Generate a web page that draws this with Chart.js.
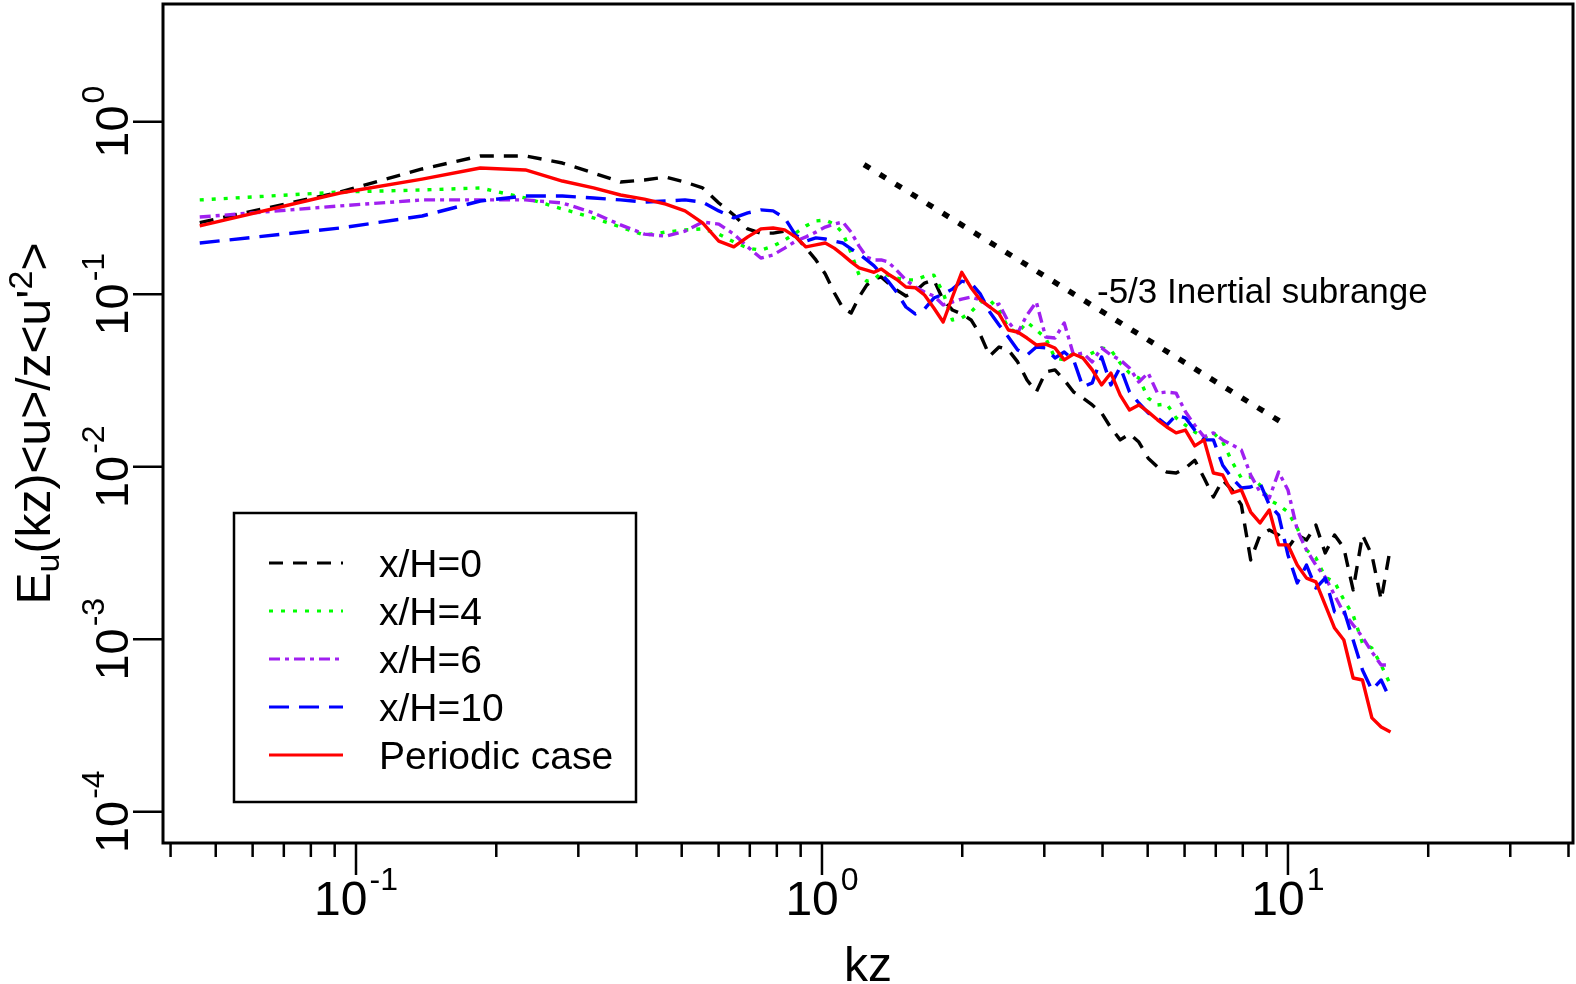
<!DOCTYPE html>
<html>
<head>
<meta charset="utf-8">
<script src="https://cdn.jsdelivr.net/npm/chart.js@4.4.0/dist/chart.umd.min.js"></script>
<style>
html, body { margin: 0; padding: 0; background: #ffffff; }
#wrap { width: 1576px; height: 984px; }
</style>
</head>
<body>
<div id="wrap"><canvas id="mycanvas" width="1576" height="984"></canvas></div>
<script>
// wavenumber kz
var kz = [0.0462, 0.0924, 0.1386, 0.1848, 0.231, 0.2772, 0.3234, 0.3696, 0.4158, 0.462,
    0.5082, 0.5544, 0.6006, 0.6468, 0.693, 0.7392, 0.7854, 0.8316, 0.8778, 0.924,
    0.9702, 1.0164, 1.0626, 1.1088, 1.155, 1.2012, 1.2474, 1.2936, 1.3398, 1.386,
    1.445, 1.514, 1.585, 1.660, 1.738, 1.820, 1.905, 1.995, 2.089, 2.188,
    2.291, 2.399, 2.512, 2.630, 2.754, 2.884, 3.020, 3.162, 3.311, 3.467,
    3.631, 3.802, 3.981, 4.169, 4.365, 4.571, 4.786, 5.012, 5.248, 5.495,
    5.754, 6.026, 6.310, 6.607, 6.918, 7.244, 7.586, 7.943, 8.318, 8.710,
    9.120, 9.550, 10.00, 10.47, 10.96, 11.48, 12.02, 12.59, 13.18, 13.80,
    14.45, 15.14, 15.85, 16.60];

// x/H=0
var eu0 = [0.260, 0.391, 0.532, 0.633, 0.633, 0.576, 0.504, 0.447, 0.459, 0.478,
    0.447, 0.413, 0.338, 0.288, 0.239, 0.226, 0.226, 0.232, 0.217, 0.185,
    0.158, 0.131, 0.102, 0.0832, 0.0778, 0.0963, 0.113, 0.122, 0.126, 0.116,
    0.106, 0.0976, 0.104, 0.116, 0.121, 0.0926, 0.0810, 0.0768, 0.0709, 0.0580,
    0.0438, 0.0494, 0.0475, 0.0405, 0.0318, 0.0271, 0.0354, 0.0364, 0.0318, 0.0271,
    0.0250, 0.0228, 0.0205, 0.0168, 0.0143, 0.0155, 0.0139, 0.0112, 0.00997, 0.00932,
    0.00919, 0.00983, 0.0109, 0.00860, 0.00667, 0.00837, 0.00733, 0.00600, 0.00288, 0.00402,
    0.00430, 0.00402, 0.00338, 0.00402, 0.00376, 0.00459, 0.00316, 0.00402, 0.00338, 0.00193,
    0.00402, 0.00308, 0.00169, 0.00342];

// x/H=4
var eu4 = [0.352, 0.391, 0.402, 0.413, 0.361, 0.312, 0.277, 0.245, 0.220, 0.229,
    0.236, 0.239, 0.223, 0.201, 0.185, 0.180, 0.190, 0.206, 0.226, 0.249,
    0.266, 0.269, 0.255, 0.226, 0.173, 0.129, 0.119, 0.122, 0.133, 0.129,
    0.124, 0.121, 0.121, 0.127, 0.129, 0.102, 0.0709, 0.0728, 0.0789, 0.0901,
    0.0926, 0.0810, 0.0637, 0.0596, 0.0690, 0.0620, 0.0557, 0.0427, 0.0416, 0.0456,
    0.0427, 0.0456, 0.0488, 0.0475, 0.0399, 0.0349, 0.0327, 0.0250, 0.0228, 0.0231,
    0.0192, 0.0174, 0.0159, 0.0147, 0.0157, 0.0139, 0.0107, 0.00860, 0.00872, 0.00783,
    0.00641, 0.00600, 0.00546, 0.00441, 0.00329, 0.00296, 0.00229, 0.00215, 0.00169, 0.00138,
    0.000950, 0.000889, 0.000709, 0.000543];

// x/H=6
var eu6 = [0.280, 0.325, 0.352, 0.352, 0.352, 0.338, 0.296, 0.252, 0.223, 0.217,
    0.232, 0.262, 0.255, 0.223, 0.188, 0.162, 0.169, 0.185, 0.203, 0.215,
    0.229, 0.245, 0.255, 0.262, 0.229, 0.190, 0.164, 0.158, 0.158, 0.154,
    0.138, 0.121, 0.110, 0.103, 0.0976, 0.0866, 0.0901, 0.0937, 0.0963, 0.0926,
    0.0843, 0.0877, 0.0690, 0.0596, 0.0758, 0.0901, 0.0565, 0.0557, 0.0681, 0.0444,
    0.0456, 0.0405, 0.0488, 0.0444, 0.0416, 0.0373, 0.0310, 0.0349, 0.0267, 0.0271,
    0.0267, 0.0208, 0.0174, 0.0149, 0.0157, 0.0143, 0.0134, 0.0125, 0.00895, 0.00713,
    0.00659, 0.00932, 0.00733, 0.00430, 0.00329, 0.00269, 0.00229, 0.00180, 0.00142, 0.00121,
    0.00103, 0.000843, 0.000709, 0.000709];

// x/H=10
var eu10 = [0.198, 0.242, 0.284, 0.347, 0.371, 0.371, 0.361, 0.352, 0.342, 0.347,
    0.352, 0.342, 0.304, 0.277, 0.296, 0.308, 0.304, 0.277, 0.220, 0.203,
    0.212, 0.209, 0.203, 0.198, 0.183, 0.171, 0.158, 0.146, 0.131, 0.119,
    0.103, 0.0843, 0.0768, 0.0821, 0.0950, 0.100, 0.107, 0.119, 0.116, 0.100,
    0.0789, 0.0663, 0.0565, 0.0475, 0.0444, 0.0494, 0.0488, 0.0427, 0.0462, 0.0416,
    0.0290, 0.0306, 0.0433, 0.0298, 0.0378, 0.0271, 0.0234, 0.0205, 0.0192, 0.0174,
    0.0199, 0.0192, 0.0163, 0.0143, 0.0143, 0.0102, 0.00860, 0.00753, 0.00763, 0.00805,
    0.00600, 0.00525, 0.00308, 0.00212, 0.00269, 0.00198, 0.00226, 0.00144, 0.00148, 0.000989,
    0.000663, 0.000508, 0.000580, 0.000444];

// periodic case
var euPer = [0.249, 0.386, 0.465, 0.539, 0.525, 0.453, 0.413, 0.376, 0.356, 0.333,
    0.304, 0.259, 0.203, 0.188, 0.215, 0.239, 0.242, 0.236, 0.215, 0.188,
    0.193, 0.198, 0.185, 0.169, 0.154, 0.142, 0.138, 0.134, 0.140, 0.131,
    0.122, 0.110, 0.109, 0.0989, 0.0832, 0.0690, 0.0963, 0.134, 0.109, 0.0926,
    0.0843, 0.0768, 0.0620, 0.0604, 0.0557, 0.0508, 0.0514, 0.0488, 0.0416, 0.0450,
    0.0427, 0.0364, 0.0298, 0.0349, 0.0260, 0.0213, 0.0228, 0.0208, 0.0187, 0.0170,
    0.0157, 0.0163, 0.0132, 0.0143, 0.00919, 0.00895, 0.00704, 0.00733, 0.00546, 0.00472,
    0.00561, 0.00352, 0.00352, 0.00269, 0.00226, 0.00215, 0.00158, 0.00116, 0.000989, 0.000596,
    0.000580, 0.000350, 0.000310, 0.000290];

// -5/3 reference line end points
var slopeKz = [1.231, 9.90];
var slopeEu = [0.564, 0.01745];

var seriesNames = ['x/H=0', 'x/H=4', 'x/H=6', 'x/H=10', 'Periodic case'];
var xMajor = [0.1, 1, 10];
var xMinor = [0.04, 0.05, 0.06, 0.07, 0.08, 0.09, 0.2, 0.3, 0.4, 0.5, 0.6, 0.7, 0.8, 0.9,
    2, 3, 4, 5, 6, 7, 8, 9, 20, 30, 40];
var yMajor = [1, 0.1, 0.01, 0.001, 0.0001];

var FONT = '"Liberation Sans", Arial, Helvetica, sans-serif';

function toPoints(xs, ys) {
    var out = [];
    for (var i = 0; i < xs.length; i++) {
        out.push({ x: xs[i], y: ys[i] });
    }
    return out;
}

function lineSet(label, vals, color, dash, order) {
    return {
        label: label,
        data: toPoints(kz, vals),
        borderColor: color,
        backgroundColor: color,
        borderWidth: 3.4,
        borderDash: dash,
        borderJoinStyle: 'round',
        pointRadius: 0,
        tension: 0,
        fill: false,
        order: order
    };
}

// draws 10 with a superscript exponent, centered on 0 along the baseline
function drawPow(ctx, exp, big, small, raise) {
    var base = '10', sup = String(exp);
    ctx.font = big + 'px ' + FONT;
    var w1 = ctx.measureText(base).width;
    ctx.font = small + 'px ' + FONT;
    var w2 = ctx.measureText(sup).width;
    var x0 = -(w1 + w2 + 2) / 2;
    ctx.textAlign = 'left';
    ctx.textBaseline = 'alphabetic';
    ctx.font = big + 'px ' + FONT;
    ctx.fillText(base, x0, 0);
    ctx.font = small + 'px ' + FONT;
    ctx.fillText(sup, x0 + w1 + 2, -raise);
}

var rStyle = {
    id: 'rStyle',
    afterDraw: function (chart) {
        var ctx = chart.ctx;
        var a = chart.chartArea;
        var xs = chart.scales.x;
        var ys = chart.scales.y;
        ctx.save();
        ctx.strokeStyle = '#000000';
        ctx.fillStyle = '#000000';
        ctx.setLineDash([]);

        // plot box
        ctx.lineWidth = 3;
        ctx.strokeRect(a.left, a.top, a.right - a.left, a.bottom - a.top);

        // ticks
        ctx.lineWidth = 2.5;
        ctx.beginPath();
        xMinor.forEach(function (v) {
            var px = xs.getPixelForValue(v);
            ctx.moveTo(px, a.bottom);
            ctx.lineTo(px, a.bottom + 14);
        });
        xMajor.forEach(function (v) {
            var px = xs.getPixelForValue(v);
            ctx.moveTo(px, a.bottom);
            ctx.lineTo(px, a.bottom + 32);
        });
        yMajor.forEach(function (v) {
            var py = ys.getPixelForValue(v);
            ctx.moveTo(a.left, py);
            ctx.lineTo(a.left - 30, py);
        });
        ctx.stroke();

        // x tick labels
        xMajor.forEach(function (v) {
            var px = xs.getPixelForValue(v);
            ctx.save();
            ctx.translate(px, a.bottom + 72);
            drawPow(ctx, Math.round(Math.log10(v)), 48, 32, 25);
            ctx.restore();
        });

        // y tick labels (rotated)
        yMajor.forEach(function (v) {
            var py = ys.getPixelForValue(v);
            ctx.save();
            ctx.translate(a.left - 35, py);
            ctx.rotate(-Math.PI / 2);
            drawPow(ctx, Math.round(Math.log10(v)), 47, 32, 24);
            ctx.restore();
        });

        // x title
        ctx.font = '48px ' + FONT;
        ctx.textAlign = 'center';
        ctx.textBaseline = 'alphabetic';
        ctx.fillText('kz', (a.left + a.right) / 2, 981);

        // y title: E_u(kz)<u>/z<u'^2>
        var parts = [
            { t: 'E', s: 48, dy: 0 },
            { t: 'u', s: 34, dy: 9 },
            { t: '(kz)<u>/z<u\'', s: 48, dy: 0 },
            { t: '2', s: 34, dy: -18 },
            { t: '>', s: 48, dy: 0 }
        ];
        var total = 0;
        parts.forEach(function (p) {
            ctx.font = p.s + 'px ' + FONT;
            p.w = ctx.measureText(p.t).width;
            total += p.w;
        });
        ctx.save();
        ctx.translate(50, (a.top + a.bottom) / 2);
        ctx.rotate(-Math.PI / 2);
        ctx.textAlign = 'left';
        var cx = -total / 2;
        parts.forEach(function (p) {
            ctx.font = p.s + 'px ' + FONT;
            ctx.fillText(p.t, cx, p.dy);
            cx += p.w;
        });
        ctx.restore();

        // slope label
        ctx.font = '35px ' + FONT;
        ctx.textAlign = 'left';
        ctx.fillText('-5/3 Inertial subrange', 1097, 303);

        // legend
        var lx = 234, ly = 513, lw = 402, lh = 289;
        ctx.fillStyle = '#ffffff';
        ctx.fillRect(lx, ly, lw, lh);
        ctx.lineWidth = 2.5;
        ctx.strokeStyle = '#000000';
        ctx.strokeRect(lx, ly, lw, lh);
        var rows = chart.data.datasets.filter(function (d) { return seriesNames.indexOf(d.label) >= 0; });
        rows.forEach(function (d, i) {
            var ry = 563 + i * 48;
            ctx.beginPath();
            ctx.strokeStyle = d.borderColor;
            ctx.lineWidth = 3;
            ctx.setLineDash(d.borderDash);
            ctx.moveTo(269, ry);
            ctx.lineTo(343, ry);
            ctx.stroke();
            ctx.setLineDash([]);
            ctx.fillStyle = '#000000';
            ctx.font = '39px ' + FONT;
            ctx.textAlign = 'left';
            ctx.fillText(d.label, 379, ry + 14);
        });
        ctx.restore();
    }
};

var slopeSet = {
    label: 'slope',
    data: toPoints(slopeKz, slopeEu),
    borderColor: '#000000',
    borderWidth: 5.5,
    borderDash: [7, 11.5],
    pointRadius: 0,
    tension: 0,
    fill: false,
    order: 5
};

var chartdata = {
    datasets: [
        lineSet(seriesNames[0], eu0, '#000000', [14, 10], 4),
        lineSet(seriesNames[1], eu4, '#00ff00', [4, 8], 3),
        lineSet(seriesNames[2], eu6, '#a020f0', [11, 5, 4, 5], 2),
        lineSet(seriesNames[3], eu10, '#0000ff', [20, 10], 1),
        lineSet(seriesNames[4], euPer, '#ff0000', [], 0),
        slopeSet
    ]
};

var ctx = document.getElementById('mycanvas');
var mycanvas = new Chart(ctx, {
    type: 'line',
    data: chartdata,
    plugins: [rStyle],
    options: {
        responsive: false,
        devicePixelRatio: 1,
        animation: false,
        layout: { padding: { left: 163, top: 4, right: 3, bottom: 141 } },
        plugins: {
            legend: { display: false },
            tooltip: { enabled: false }
        },
        scales: {
            x: {
                type: 'logarithmic',
                display: false,
                bounds: 'data',
                min: 0.03853,
                max: 40.90
            },
            y: {
                type: 'logarithmic',
                display: false,
                bounds: 'data',
                min: 0.00006585,
                max: 4.812
            }
        }
    }
});
</script>
</body>
</html>
